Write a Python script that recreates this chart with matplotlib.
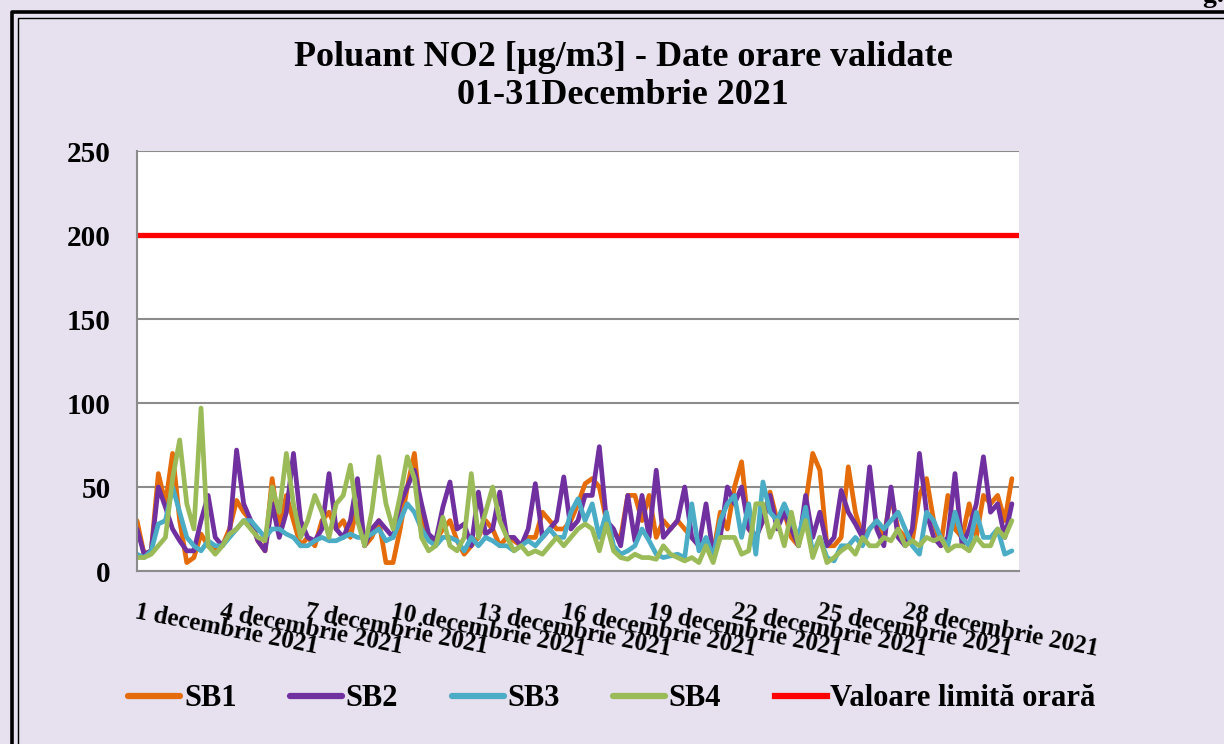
import numpy as np
import matplotlib
matplotlib.use("Agg")
import matplotlib.pyplot as plt
from matplotlib.lines import Line2D

# ---- data (4 readings per day, 1-31 December 2021) ----
sb1 = [30, 10, 12, 58, 40, 70, 30, 5, 8, 22, 15, 12, 15, 25, 42, 35, 30, 18, 12, 55,
       25, 45, 30, 15, 20, 15, 30, 35, 25, 30, 20, 40, 15, 20, 30, 5, 5, 25, 50, 70,
       30, 20, 18, 25, 30, 18, 10, 15, 20, 30, 25, 15, 20, 18, 15, 20, 20, 35, 30, 25,
       25, 30, 40, 52, 55, 50, 30, 22, 20, 45, 45, 30, 45, 20, 30, 25, 30, 25, 20, 15,
       15, 10, 35, 25, 50, 65, 25, 20, 30, 47, 30, 35, 20, 15, 40, 70, 60, 15, 15, 20,
       62, 35, 20, 25, 30, 20, 45, 25, 20, 18, 45, 55, 30, 15, 45, 25, 20, 40, 20, 45,
       40, 45, 30, 55]
sb2 = [25, 10, 12, 50, 38, 25, 18, 12, 12, 30, 45, 20, 15, 22, 72, 40, 30, 18, 12, 40,
       20, 35, 70, 30, 20, 18, 25, 58, 25, 20, 30, 55, 15, 25, 30, 25, 20, 40, 50, 60,
       40, 22, 18, 38, 53, 25, 28, 15, 47, 22, 25, 47, 20, 20, 15, 25, 52, 20, 25, 30,
       56, 25, 30, 45, 45, 74, 30, 25, 15, 45, 18, 45, 20, 60, 20, 25, 30, 50, 20, 15,
       40, 10, 20, 50, 40, 50, 25, 20, 30, 45, 25, 35, 25, 15, 45, 20, 35, 15, 20, 48,
       35, 28, 20, 62, 25, 15, 50, 20, 15, 25, 70, 35, 20, 15, 20, 58, 15, 25, 40, 68,
       35, 40, 20, 40]
sb3 = [10, 8, 12, 28, 30, 50, 35, 20, 15, 12, 18, 15, 15, 20, 25, 30, 30, 25, 20, 25,
       25, 22, 20, 15, 15, 18, 20, 18, 18, 20, 22, 20, 20, 22, 25, 18, 20, 30, 40, 35,
       25, 18, 15, 20, 20, 18, 12, 20, 15, 20, 18, 15, 15, 12, 15, 18, 15, 20, 25, 20,
       20, 35, 43, 30, 40, 20, 35, 15, 10, 12, 15, 25, 18, 10, 8, 9, 10, 8, 40, 12,
       20, 8, 30, 40, 45, 20, 40, 10, 53, 35, 30, 40, 30, 20, 38, 10, 20, 8, 6, 15,
       15, 20, 15, 25, 30, 25, 30, 35, 25, 15, 10, 35, 30, 20, 15, 35, 20, 15, 35, 20,
       20, 25, 10, 12]
sb4 = [8, 8, 10, 15, 20, 55, 78, 40, 25, 97, 15, 10, 15, 22, 25, 30, 25, 20, 18, 50,
       35, 70, 40, 20, 30, 45, 35, 20, 40, 45, 63, 30, 15, 35, 68, 40, 25, 45, 68, 55,
       20, 12, 15, 32, 15, 12, 20, 58, 20, 35, 50, 30, 20, 12, 15, 10, 12, 10, 15, 20,
       15, 20, 25, 28, 25, 12, 28, 12, 8, 7, 10, 8, 8, 7, 15, 10, 8, 6, 8, 5,
       15, 5, 20, 20, 20, 10, 12, 40, 40, 20, 30, 15, 35, 15, 30, 8, 20, 5, 8, 12,
       15, 10, 20, 15, 15, 20, 18, 25, 15, 18, 15, 20, 18, 20, 12, 15, 15, 12, 20, 15,
       15, 25, 20, 30]
limit_value = 200
series_names = ["SB1", "SB2", "SB3", "SB4"]
limit_name = "Valoare limită orară"
tick_days = [1, 4, 7, 10, 13, 16, 19, 22, 25, 28]
tick_labels = [f"{d} decembrie 2021" for d in tick_days]
title = "Poluant NO2 [µg/m3] - Date orare validate\n01-31Decembrie 2021"

colors = ["#E46C0A", "#7030A0", "#4BACC6", "#9BBB59"]
bg = "#E6E0EF"

plt.rcParams['font.family'] = ['Liberation Serif', 'DejaVu Serif']
plt.rcParams['font.weight'] = 'bold'

W, H = 1224, 744
fig = plt.figure(figsize=(W / 100, H / 100), dpi=100, facecolor=bg)
ax = fig.add_axes([137 / W, 1 - 571 / H, (1019 - 137) / W, (571 - 151) / H])
ax.set_facecolor("white")

n = len(sb1)
x = np.arange(n) / 4.0
lines = []
for vals, c, name in zip([sb1, sb2, sb3, sb4], colors, series_names):
    ln, = ax.plot(x, vals, color=c, lw=3.4, label=name, solid_joinstyle='round',
                  solid_capstyle='round')
    lines.append(ln)
lim, = ax.plot([0, 31], [limit_value, limit_value], color="#FF0000", lw=3.8, label=limit_name)
lines.append(lim)

ax.set_xlim(0, 31)
ax.set_ylim(0, 250)
ax.set_yticks(np.arange(0, 251, 50))
ax.grid(axis='y', color="#8C8C8C", lw=1.5)
ax.set_axisbelow(True)
for s in ['top', 'right']:
    ax.spines[s].set_visible(False)
for s in ['left', 'bottom']:
    ax.spines[s].set_color("#8C8C8C")
    ax.spines[s].set_linewidth(1.5)
ax.tick_params(axis='y', length=0, pad=19, labelsize=21)
for t in ax.get_yticklabels():
    t.set_fontweight('bold')

ax.set_xticks([d - 1 for d in tick_days])
ax.set_xticklabels(tick_labels, rotation=-11, rotation_mode='anchor', ha='left', va='top',
                   fontsize=18, fontweight='bold')
ax.tick_params(axis='x', length=0, pad=21)

fig.text(623 / W, 1 - 76 / H, title, ha='center', va='center', fontsize=26,
         fontweight='bold', linespacing=1.2)

leg = fig.legend(handles=lines, labels=series_names + [limit_name], loc='center',
                 bbox_to_anchor=(612 / W, 1 - 699 / H), ncol=5, frameon=False,
                 handlelength=1.7, handletextpad=0.12, columnspacing=1.75,
                 prop={'weight': 'bold', 'size': 22})
for lh in leg.get_lines():
    lh.set_linewidth(4.5)

# outer frame of the figure panel
def fline(xs, ys, lw):
    fig.add_artist(Line2D([v / W for v in xs], [1 - v / H for v in ys],
                          transform=fig.transFigure, color='black', lw=lw))
fline([12, 12, W + 5], [H + 5, 12, 12], 2.6)
fline([17.5, 17.5, W + 5], [H + 5, 17.5, 17.5], 1.0)

fig.text(1203 / W, 1 - 2 / H, "g. 1", ha='left', va='baseline', fontsize=20,
         fontweight='bold')

fig.savefig("out.png", dpi=100, facecolor=bg)
